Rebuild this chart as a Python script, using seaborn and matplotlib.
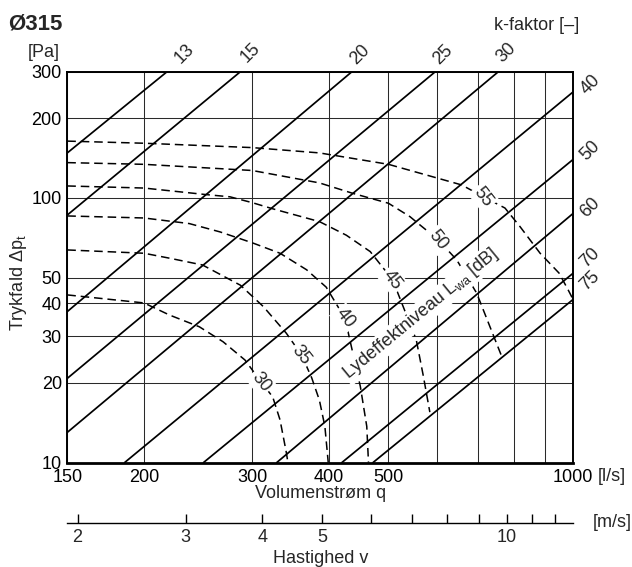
import numpy as np
import pandas as pd
import matplotlib
matplotlib.use("Agg")
import matplotlib.pyplot as plt
from matplotlib.ticker import FixedLocator, FixedFormatter, NullFormatter, NullLocator
import seaborn as sns

# CONFIGURATION
sns.set_theme(style="white")
plt.rcParams["font.family"] = ["Liberation Sans", "DejaVu Sans"]
plt.rcParams["mathtext.fontset"] = "custom"
plt.rcParams["mathtext.rm"] = "Liberation Sans"
plt.rcParams["mathtext.it"] = "Liberation Sans:italic"
plt.rcParams["axes.edgecolor"] = "black"

FS = 13
DUCT_D = 0.315  # duct diameter [m], used for the velocity scale

# k-factor lines that leave through the top edge:
# pressure at q = 150 l/s and flow at dp = 300 Pa
k_top = [13, 15, 20, 25, 30]
k_top_dp_at_150 = [148, 86.2, 37.2, 20.8, 13.0]
k_top_q_at_300 = [218, 287, 436, 596, 755]

# k-factor lines that leave through the right edge:
# flow at dp = 10 Pa and pressure at q = 1000 l/s
k_right = [40, 50, 60, 70, 75]
k_right_q_at_10 = [186, 250, 329, 420, 472]
k_right_dp_at_1000 = [252, 140, 87.5, 52.0, 41.4]

# sound power level curves L_wa [dB] (dashed)
lw_levels = [30, 35, 40, 45, 50, 55]
lw30_q = [150, 200, 220, 246, 269, 292, 310, 324, 333, 341, 343]
lw30_dp = [43, 40.1, 36.1, 32.6, 28.6, 24.4, 20.2, 17.7, 14.5, 10.9, 10]
lw35_q = [150, 200, 220, 249, 287, 313, 341, 361, 375, 386, 394, 399]
lw35_dp = [63.6, 61.8, 59.2, 55.8, 46.8, 38.8, 30.8, 25.5, 20.9, 17.2, 13.7, 10]
lw40_q = [150, 200, 237, 266, 300, 333, 368, 396, 425, 450, 461, 464]
lw40_dp = [85.5, 84, 80, 74.4, 67.7, 61.8, 53.5, 46, 35, 19.4, 13.7, 10]
lw45_q = [150, 200, 252, 276, 300, 324, 386, 427, 467, 508, 555, 570, 584]
lw45_dp = [111, 109, 103, 101, 96, 91, 81.4, 72.3, 62.7, 49, 29.1, 21.2, 15.5]
lw50_q = [150, 200, 300, 386, 438, 500, 542, 563, 603, 646, 696, 765]
lw50_dp = [136, 134, 127, 114, 104, 95.5, 85, 79, 69.4, 58.3, 43.7, 25.1]
lw55_q = [150, 200, 300, 386, 500, 658, 714, 774, 819, 883, 948, 981, 1000]
lw55_dp = [164, 161, 155, 148, 134, 112, 101, 91.6, 77.9, 61.8, 52, 44.9, 41.2]
lw_label_q = [310, 361, 425, 508, 603, 714]

x_ticks = [150, 200, 300, 400, 500, 600, 700, 800, 900, 1000]
x_ticklabels = ["150", "200", "300", "400", "500", "", "", "", "", "1000"]
x_minor = [160, 170, 180, 190, 250, 350, 450, 550]
y_ticks = [10, 20, 30, 40, 50, 100, 200, 300]
y_ticklabels = ["10", "20", "30", "40", "50", "100", "200", "300"]
y_minor = [15, 60, 70, 80, 90]
v_ticks = [2, 3, 4, 5, 6, 7, 8, 9, 10, 11, 12]
v_ticklabels = ["2", "3", "4", "5", "", "", "", "", "10", "", ""]

# label offsets (pixels) from the line ends
k_top_offsets = [(17, 18), (10, 19), (8, 17), (8, 17), (8, 19)]
k_right_offsets = [(17, 7), (17, 9), (17, 6), (17, 15), (17, 18)]

# build tables
k_rows = []
for k, dp0, q1 in zip(k_top, k_top_dp_at_150, k_top_q_at_300):
    k_rows += [(k, 150, dp0), (k, q1, 300)]
for k, q0, dp1 in zip(k_right, k_right_q_at_10, k_right_dp_at_1000):
    k_rows += [(k, q0, 10), (k, 1000, dp1)]
k_df = pd.DataFrame(k_rows, columns=["k", "q", "dp"])

lw_q = [lw30_q, lw35_q, lw40_q, lw45_q, lw50_q, lw55_q]
lw_dp = [lw30_dp, lw35_dp, lw40_dp, lw45_dp, lw50_dp, lw55_dp]
lw_df = pd.concat(
    [pd.DataFrame({"level": lev, "q": q, "dp": dp}) for lev, q, dp in zip(lw_levels, lw_q, lw_dp)],
    ignore_index=True,
)

fig = plt.figure(figsize=(6.32, 5.67), dpi=100)
ax = fig.add_axes([0.1065, 0.1843, 0.8006, 0.6892])
ax.set_xscale("log")
ax.set_yscale("log")

sns.lineplot(data=lw_df, x="q", y="dp", units="level", estimator=None, color="black",
             linewidth=1.1, linestyle=(0, (5.6, 3.2)), legend=False, ax=ax, zorder=2)
sns.lineplot(data=k_df, x="q", y="dp", units="k", estimator=None, color="black",
             linewidth=1.25, legend=False, ax=ax, zorder=4)

ax.set_xlim(150, 1000)
ax.set_ylim(10, 300)

ax.xaxis.set_major_locator(FixedLocator(x_ticks))
ax.xaxis.set_major_formatter(FixedFormatter(x_ticklabels))
ax.xaxis.set_minor_locator(FixedLocator(x_minor))
ax.xaxis.set_minor_formatter(NullFormatter())
ax.yaxis.set_major_locator(FixedLocator(y_ticks))
ax.yaxis.set_major_formatter(FixedFormatter(y_ticklabels))
ax.yaxis.set_minor_locator(FixedLocator(y_minor))
ax.yaxis.set_minor_formatter(NullFormatter())
ax.tick_params(which="both", direction="in", length=5, width=1.0, color="black",
               labelsize=FS, labelcolor="black", top=False, right=False)
ax.tick_params(axis="x", pad=5)
ax.tick_params(axis="y", pad=4)

ax.grid(which="major", color="#2a2a2a", linewidth=0.75)
ax.set_axisbelow(True)
for s in ax.spines.values():
    s.set_linewidth(1.4)
    s.set_color("black")
ax.spines["bottom"].set_linewidth(2.0)

ax.set_xlabel("")
ax.set_ylabel("")

# sound level labels
for lev, lq, q, dp in zip(lw_levels, lw_label_q, lw_q, lw_dp):
    ly = 10 ** np.interp(np.log10(lq), np.log10(q), np.log10(dp))
    ax.text(lq, ly, str(lev), rotation=-52, rotation_mode="anchor", ha="center", va="center",
            fontsize=FS, zorder=3,
            bbox=dict(boxstyle="square,pad=0.12", fc="white", ec="none"))

ax.text(565, 36.5, r"Lydeffektniveau $\mathrm{L_{wa}}$ [dB]", rotation=39.5,
        rotation_mode="anchor", ha="center", va="center", fontsize=FS, zorder=3,
        bbox=dict(boxstyle="square,pad=0.08", fc="white", ec="none"))

# k-factor labels
for k, q1, off in zip(k_top, k_top_q_at_300, k_top_offsets):
    ax.annotate(str(k), (q1, 300), xytext=off, textcoords="offset pixels",
                rotation=45, ha="center", va="center", fontsize=FS, annotation_clip=False)
for k, dp1, off in zip(k_right, k_right_dp_at_1000, k_right_offsets):
    ax.annotate(str(k), (1000, dp1), xytext=off, textcoords="offset pixels",
                rotation=45, ha="center", va="center", fontsize=FS, annotation_clip=False)

# axis titles and units
ax.text(1.0765, -0.036, "[l/s]", transform=ax.transAxes, ha="center", va="center", fontsize=FS)
ax.text(0.5, -0.08, "Volumenstrøm q", transform=ax.transAxes, ha="center", va="center", fontsize=FS)
fig.text(18.3 / 632, 1 - 283 / 567, r"Trykfald $\mathrm{\Delta p_t}$", rotation=90,
         ha="center", va="center", fontsize=FS)
fig.text(60 / 632, 1 - 57 / 567, "[Pa]", ha="right", va="baseline", fontsize=FS)
fig.text(8 / 632, 1 - 29.5 / 567, "Ø315", ha="left", va="baseline", fontsize=16, fontweight="bold")
fig.text(579 / 632, 1 - 30 / 567, "k-faktor [–]", ha="right", va="baseline", fontsize=FS)

# velocity scale
area = np.pi / 4 * DUCT_D ** 2


def q_to_v(q):
    return np.asarray(q) / 1000 / area


def v_to_q(v):
    return np.asarray(v) * area * 1000


sec = ax.secondary_xaxis(-0.1548, functions=(q_to_v, v_to_q))
sec.xaxis.set_major_locator(FixedLocator(v_ticks))
sec.xaxis.set_major_formatter(FixedFormatter(v_ticklabels))
sec.xaxis.set_minor_locator(NullLocator())
sec.tick_params(direction="in", length=6.5, width=1.0, color="black", labelsize=FS, pad=4)
sec.spines["bottom"].set_linewidth(1.0)
sec.spines["bottom"].set_color("black")
ax.text(1.0765, -0.1548, "[m/s]", transform=ax.transAxes, ha="center", va="center", fontsize=FS)
ax.text(0.5, -0.245, "Hastighed v", transform=ax.transAxes, ha="center", va="center", fontsize=FS)

fig.savefig("out.png", dpi=100, facecolor="white")
